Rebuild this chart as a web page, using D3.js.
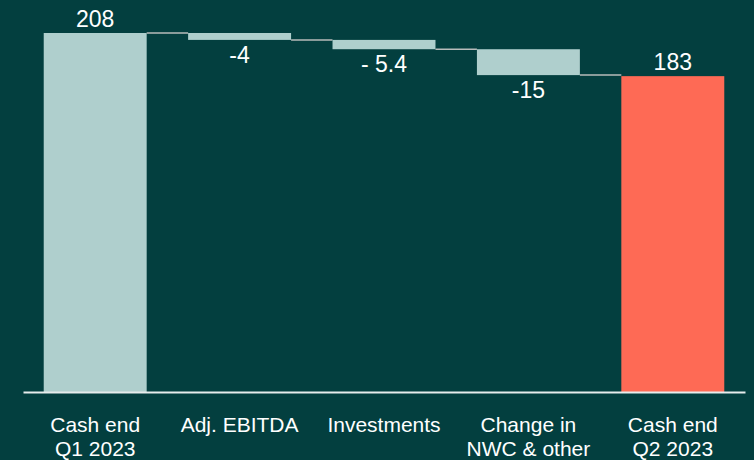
<!DOCTYPE html>
<html>
<head>
<meta charset="utf-8">
<script src="https://cdn.jsdelivr.net/npm/d3@7"></script>
<style>
  html, body { margin: 0; padding: 0; background: #033f3f; }
  svg { display: block; }
</style>
</head>
<body>
<div id="container"></div>
<script>
// waterfall data
let categories = ['Cash end|Q1 2023', 'Adj. EBITDA', 'Investments', 'Change in|NWC & other', 'Cash end|Q2 2023'];
let values = [208, -4, -5.4, -15, 183];
let kinds = ['total', 'delta', 'delta', 'delta', 'total'];
let valueLabels = ['208', '-4', '- 5.4', '-15', '183'];

let w = 754,
    h = 460;

let viz = d3.select('#container')
    .append('svg')
      .attr('width', w)
      .attr('height', h)
      .style('background', '#033f3f');

function main() {
    // running totals -> start / end of each bar
    let bars = [];
    let run = 0;
    values.forEach(function(v, i) {
        let start, end;
        if (kinds[i] === 'total') { start = 0; end = v; run = v; }
        else { start = run; end = run + v; run = end; }
        bars.push({ cat: categories[i], start: start, end: end, kind: kinds[i], label: valueLabels[i] });
    });

    let x = d3.scaleBand()
        .domain(categories)
        .range([23, 745])
        .paddingInner(0.287)
        .paddingOuter(0.1435);

    let y = d3.scaleLinear()
        .domain([0, 208])
        .range([392, 33]);

    // connectors between bars
    viz.append('g')
        .selectAll('line')
        .data(bars.slice(0, -1))
        .enter().append('line')
          .attr('x1', function(d) { return x(d.cat) + x.bandwidth(); })
          .attr('x2', function(d, i) { return x(bars[i + 1].cat); })
          .attr('y1', function(d) { return y(d.end); })
          .attr('y2', function(d) { return y(d.end); })
          .style('stroke', '#b8bcbb')
          .style('stroke-width', 1.5);

    // bars
    viz.append('g')
        .selectAll('rect')
        .data(bars)
        .enter().append('rect')
          .attr('x', function(d) { return x(d.cat); })
          .attr('width', x.bandwidth())
          .attr('y', function(d) { return y(Math.max(d.start, d.end)); })
          .attr('height', function(d) { return Math.abs(y(d.start) - y(d.end)); })
          .attr('fill', function(d, i) { return i === bars.length - 1 ? '#fe6a55' : '#afcfcd'; });

    // value labels
    viz.append('g')
        .attr('font-family', 'Arial, "Liberation Sans", sans-serif')
        .attr('font-size', 23)
        .attr('fill', 'white')
        .attr('text-anchor', 'middle')
        .selectAll('text')
        .data(bars)
        .enter().append('text')
          .attr('x', function(d) { return x(d.cat) + x.bandwidth() / 2; })
          .attr('y', function(d) {
              if (d.kind === 'total') return y(d.end) - 6;
              return y(Math.min(d.start, d.end)) + 23;
          })
          .text(function(d) { return d.label; });

    // x axis with two-line labels
    let axis = viz.append('g')
        .attr('transform', 'translate(0,392)')
        .call(d3.axisBottom(x).tickSize(0).tickSizeOuter(0));

    axis.select('.domain')
        .style('stroke', '#e6ecec')
        .style('stroke-width', 2);

    axis.selectAll('.tick text')
        .attr('font-family', 'Arial, "Liberation Sans", sans-serif')
        .attr('font-size', 21)
        .attr('fill', 'white')
        .attr('y', 0)
        .attr('dy', null)
        .each(function(d) {
            let t = d3.select(this).text('');
            d.split('|').forEach(function(line, i) {
                t.append('tspan')
                    .attr('x', 0)
                    .attr('y', 40 + i * 24)
                    .text(line);
            });
        });
}

main();
</script>
</body>
</html>
